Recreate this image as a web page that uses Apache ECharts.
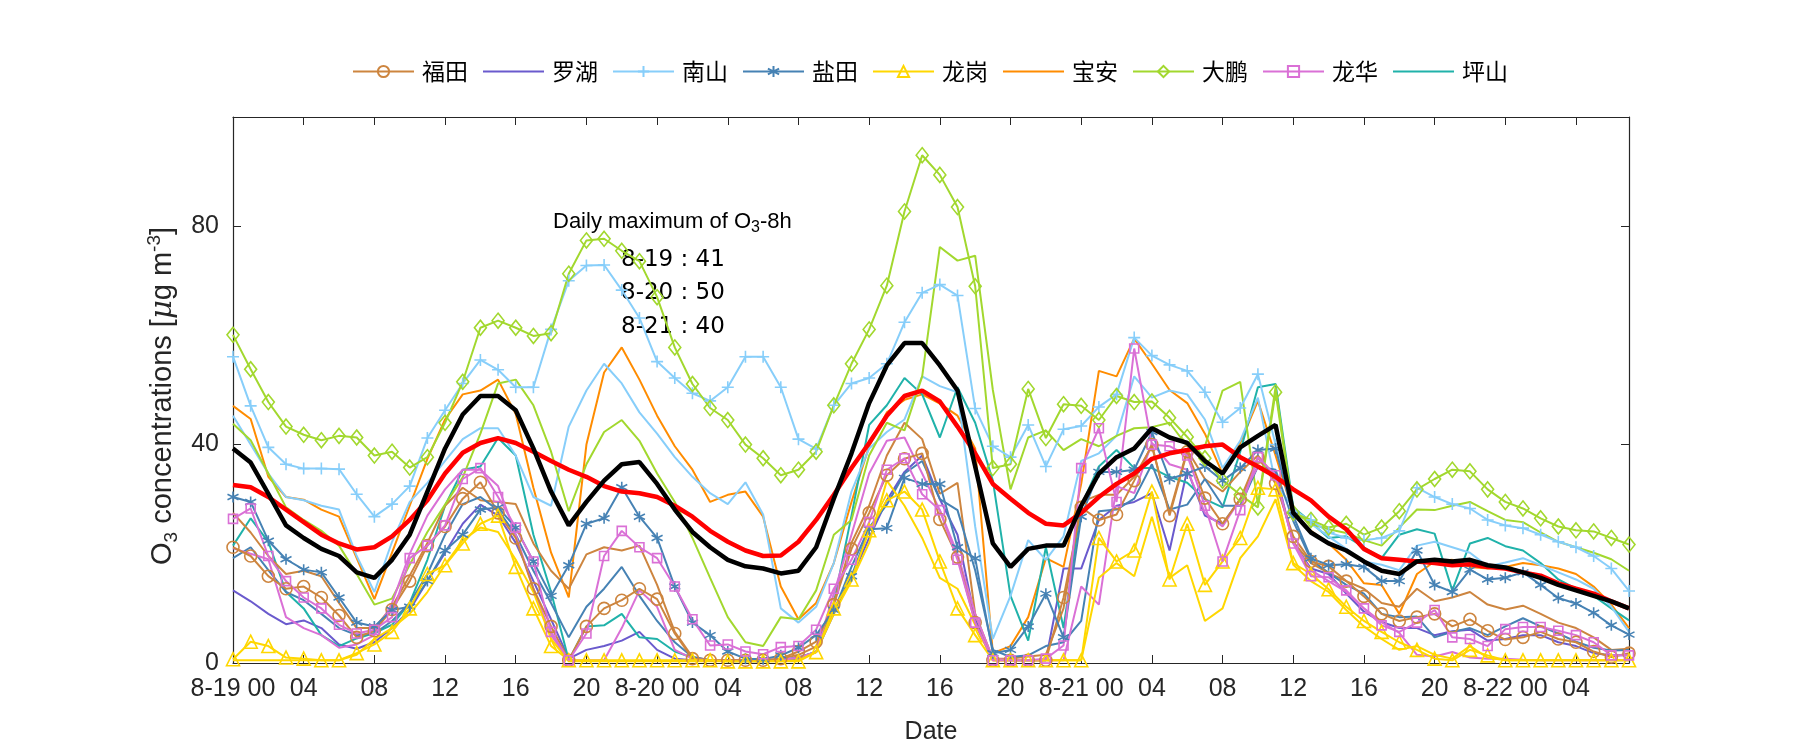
<!DOCTYPE html>
<html><head><meta charset="utf-8">
<script src="https://cdn.jsdelivr.net/npm/echarts@6/dist/echarts.min.js"></script>
<style>html,body{margin:0;padding:0;background:#fff}#c{width:1800px;height:750px}</style>
</head><body><div id="c"></div>
<script>
// hours since 8-19 00:00
const hours = Array.from({length: 80}, (_, i) => i);
const xTickLabels = ['8-19 00','04','08','12','16','20','8-20 00','04','08','12','16','20','8-21 00','04','08','12','16','20','8-22 00','04'];
const yTickLabels = ['0','40','80'];
const legendNames = ['福田','罗湖','南山','盐田','龙岗','宝安','大鹏','龙华','坪山'];
const dailyMaxDates = ['8-19','8-20','8-21'];
const dailyMaxValues = [41, 50, 40];

// stations with legend
const futian = [21.2,19.6,15.9,13.6,14.0,12.0,8.7,4.7,5.9,9.8, 15.0,21.5,25.0,30.1,33.1,27.5,22.9,13.6,6.7,0.5, 6.7,10.0,11.5,13.6,11.7,5.4,0.8,0.5,0.5,0.5, 0.5,0.8,2.1,3.9,10.7,20.9,27.5,34.4,37.4,38.4, 26.3,19.4,7.4,0.5,0.5,0.5,0.5,12.0,28.5,26.2, 27.2,33.4,40.0,27.0,38.7,30.2,25.5,30.0,37.7,32.9, 23.2,18.6,17.7,15.0,12.2,9.0,7.7,8.4,9.0,6.7, 8.0,5.9,4.3,4.7,5.7,4.4,3.8,2.1,1.1,1.8];
const luohu = [13.3,11.3,9.0,7.1,7.8,6.4,3.4,2.6,3.8,6.4, 9.7,15.0,20.2,25.5,29.0,27.0,22.0,15.0,8.0,0.8, 2.4,3.1,4.1,5.7,2.4,0.8,0.5,0.4,0.4,0.4, 0.4,0.4,0.8,2.0,9.0,15.6,22.9,29.8,35.0,38.0, 30.0,23.5,8.0,0.8,0.5,0.5,0.5,17.3,17.3,26.2, 28.8,29.5,31.1,20.6,35.4,27.0,25.5,30.0,36.0,35.0, 22.0,17.3,16.3,12.7,9.4,7.5,6.4,6.4,5.1,5.8, 6.1,4.1,4.4,5.1,5.1,3.8,3.1,1.8,1.4,1.4];
const nanshan = [56.1,47.1,39.5,36.4,35.6,35.6,35.5,30.9,26.8,29.1, 32.4,41.2,46.3,51.2,55.5,53.7,50.5,50.5,61.1,70.0, 72.8,72.9,68.3,63.2,55.2,52.2,49.4,48.0,50.5,56.1, 56.1,50.5,41.0,39.2,47.2,51.2,52.2,54.8,62.4,67.8, 69.3,67.3,46.6,39.7,37.7,43.6,36.0,42.8,43.4,46.9, 49.2,59.6,56.3,54.6,53.5,49.6,44.1,46.7,52.9,40.0, 27.8,26.2,23.9,22.9,22.5,22.9,24.2,32.1,30.4,29.1, 28.3,26.2,25.2,24.7,23.5,22.2,21.2,19.6,17.3,13.2];
const yantian = [30.4,29.5,22.4,19.0,17.1,16.6,12.0,7.4,6.7,9.7, 10.3,15.0,20.6,23.5,28.1,28.5,24.8,18.6,12.3,17.9, 25.5,26.5,32.2,26.8,22.9,14.0,7.4,5.1,2.1,0.8, 0.7,1.4,2.8,5.1,9.7,15.9,24.5,24.7,33.9,32.8, 32.8,21.2,19.2,1.8,2.4,6.7,12.7,4.7,26.8,35.0, 35.0,35.4,42.3,33.7,34.7,36.0,33.4,35.7,39.0,39.3, 27.0,19.2,17.9,18.1,17.6,15.0,15.0,20.6,14.3,13.0, 17.1,15.3,15.6,16.6,14.3,11.9,10.9,9.2,6.9,5.2];
const longgang = [0.7,3.9,3.1,1.0,0.8,0.5,0.5,1.8,3.4,5.7, 10.0,16.3,17.9,21.9,25.5,27.0,17.6,10.0,3.1,0.5, 0.5,0.5,0.5,0.5,0.5,0.5,0.5,0.5,0.3,0.3, 0.3,0.3,0.3,2.0,10.0,15.3,24.3,29.8,31.4,28.1, 18.6,10.0,5.1,0.5,0.5,0.5,0.5,0.5,0.5,22.9, 18.6,20.6,31.4,15.3,25.5,14.3,18.6,22.9,32.1,31.8, 18.3,16.3,13.5,10.3,7.7,5.7,3.8,2.4,0.8,0.5, 2.4,1.4,0.5,0.5,0.5,0.5,0.5,0.5,0.5,0.5];
const baoan = [47.1,44.7,34.1,30.4,29.9,28.1,26.8,19.2,11.7,20.2, 28.8,37.4,44.6,49.2,49.9,51.9,45.6,32.1,20.2,12.0, 40.0,53.2,57.8,51.9,45.3,39.7,35.4,29.5,30.8,31.4, 26.8,14.0,8.0,11.0,18.3,29.5,39.7,45.9,48.2,49.2, 47.5,45.3,39.3,1.8,3.1,8.4,19.2,17.6,32.8,53.5, 52.5,59.4,54.8,50.0,47.6,42.0,34.7,40.3,48.0,38.0, 27.5,24.2,21.9,18.9,14.6,14.3,9.0,16.3,18.6,18.9, 17.6,17.3,17.6,18.3,17.9,17.3,16.3,14.0,10.7,6.4];
const dapeng = [60.1,53.8,47.8,43.3,41.8,40.8,41.6,41.3,38.0,38.7, 35.8,37.7,44.0,51.5,61.4,62.7,61.4,59.9,60.4,71.3, 77.4,77.7,75.5,73.6,67.0,57.8,51.1,46.7,44.5,40.0, 37.5,34.4,35.4,38.7,47.2,54.8,61.1,69.1,82.7,93.0, 89.4,83.5,69.0,35.7,36.4,50.2,41.2,47.4,47.1,44.5, 48.9,47.8,47.9,44.9,41.4,37.5,33.4,30.8,28.5,49.6, 27.5,26.2,24.8,25.5,23.5,24.8,27.8,31.8,33.7,35.4, 35.1,31.8,29.5,28.3,26.5,25.0,24.3,24.1,22.9,21.7];
const longhua = [26.4,28.3,19.6,15.0,12.0,10.0,7.0,5.4,6.1,8.4, 19.2,21.5,25.2,33.7,35.7,30.4,24.8,18.6,5.7,0.5, 5.4,19.6,24.2,21.2,19.2,14.0,8.0,3.2,3.4,2.1, 1.6,2.9,3.1,6.1,13.6,18.9,25.8,35.4,37.5,30.9, 28.0,18.9,7.4,0.5,0.5,0.5,0.8,3.2,35.7,43.0, 29.5,57.6,40.0,39.7,38.0,28.8,18.6,28.0,37.7,34.4, 21.9,15.9,15.7,13.3,10.0,6.9,5.7,7.4,9.7,4.7, 4.4,3.1,6.2,6.6,6.6,5.9,5.1,3.8,1.4,1.4];
const pingshan = [21.5,26.5,22.2,13.0,10.0,5.1,3.1,4.5,5.5,7.0, 11.0,18.9,28.8,35.4,36.0,41.2,38.0,23.5,13.0,0.5, 6.7,6.9,9.0,4.7,4.4,2.1,1.0,0.5,0.5,0.5, 0.5,0.5,1.0,2.0,11.0,27.0,43.6,47.2,52.2,49.2, 41.3,50.5,44.0,33.4,12.3,4.1,21.2,6.4,28.8,36.0, 39.0,35.7,35.7,34.1,33.0,30.0,28.5,38.7,50.5,51.1, 28.5,25.8,22.9,23.2,21.2,19.2,23.5,24.5,23.7,13.3, 21.9,22.9,21.4,20.6,18.3,15.3,13.6,12.3,10.0,7.8];

// second set of lines (no legend entry)
const futian2 = [27.5,23.9,19.6,16.3,16.9,15.9,11.0,6.4,6.4,10.3, 16.0,22.0,28.8,32.1,29.8,29.5,29.1,21.9,16.9,13.6, 19.9,21.2,20.6,21.5,14.3,5.7,1.1,0.5,0.5,0.5, 0.5,0.8,1.5,3.0,11.0,22.0,28.8,38.0,44.0,41.0, 31.0,33.0,9.0,0.8,0.8,1.2,1.5,10.0,29.5,30.8, 30.8,34.1,39.7,27.5,39.0,33.7,31.4,35.0,38.0,34.1, 22.2,18.3,16.5,15.0,13.6,11.0,10.3,13.6,11.3,12.0, 13.0,10.7,9.8,10.5,9.0,7.4,6.4,4.7,2.4,2.6];
const nanshan2 = [45.3,40.0,34.7,30.4,29.8,28.8,28.1,19.6,13.0,22.2, 29.5,33.0,37.0,41.0,43.0,43.0,38.0,30.4,28.8,43.3, 49.9,54.8,51.2,45.9,42.0,37.7,34.1,31.1,29.1,33.1, 27.2,10.0,7.4,10.3,18.3,31.4,39.3,42.3,44.6,52.5, 50.7,49.6,25.0,4.4,12.3,22.5,18.9,23.2,37.0,38.4, 41.6,52.5,48.6,49.9,49.2,44.6,35.7,40.7,48.6,32.8, 28.5,25.5,23.2,20.9,18.6,18.0,17.0,21.5,22.2,21.2, 20.2,17.7,18.4,19.2,17.9,16.6,15.3,13.6,10.3,5.7];
const dapeng2 = [43.8,40.8,34.7,28.5,26.2,24.2,21.5,16.3,10.7,11.8, 18.0,24.0,29.0,34.0,42.0,51.2,51.9,47.2,38.7,27.8, 36.4,42.3,44.5,40.7,34.7,29.5,22.9,15.6,8.4,3.8, 3.1,8.4,8.0,13.3,23.5,26.2,38.0,44.0,42.6,52.5, 76.2,73.7,74.6,50.0,31.8,41.3,42.6,39.0,41.0,39.7, 41.6,43.0,43.2,44.0,39.7,39.7,49.9,51.5,29.0,50.5, 27.8,25.5,24.5,23.8,22.5,21.5,24.8,28.1,28.0,28.8, 29.5,27.8,26.2,25.8,23.9,22.2,21.2,20.2,19.0,16.9];
const yantian2 = [19.2,21.2,17.0,13.0,11.5,9.0,6.4,5.1,5.4,7.7, 11.0,16.3,23.5,29.1,30.4,28.0,23.5,16.9,11.0,4.7, 10.3,13.6,17.6,12.3,7.7,3.8,1.1,0.5,0.3,0.3, 0.3,0.5,1.0,2.0,9.4,17.6,24.8,29.0,34.7,37.0, 30.0,28.0,17.0,2.4,1.1,1.4,3.1,3.8,7.7,27.8, 28.1,30.1,36.4,28.1,29.0,33.7,28.8,28.8,36.0,35.4, 26.0,18.9,16.5,14.3,12.7,9.0,8.4,8.5,4.7,5.7, 6.4,5.1,6.7,8.2,6.7,5.4,3.9,2.8,2.3,2.4];
const longhua2 = [21.0,20.0,19.0,8.4,6.4,5.1,2.8,3.4,5.1,11.0, 20.0,27.0,31.8,35.4,35.4,32.4,23.5,13.6,5.1,0.5, 0.5,0.5,6.4,13.3,10.3,2.4,0.8,0.5,0.5,0.5, 0.5,0.5,1.0,2.0,12.7,23.5,34.7,40.7,41.3,34.7, 28.0,20.0,9.0,0.8,0.5,0.5,0.5,0.5,14.0,10.7, 32.4,31.1,40.3,36.4,35.4,27.5,25.0,30.0,36.0,34.0, 22.0,17.0,15.0,13.0,10.0,7.5,5.5,1.5,1.2,2.0, 1.0,0.8,0.8,0.6,0.5,0.5,0.5,0.5,0.5,0.5];
const longgang2 = [0.5,0.5,0.5,0.5,0.5,0.5,0.5,1.5,4.4,6.4, 9.0,13.0,18.0,22.5,24.8,24.0,18.9,13.0,4.4,0.3, 0.3,0.3,0.3,0.3,0.3,0.3,0.3,0.3,0.3,0.3, 0.3,0.3,0.5,2.0,9.0,15.0,22.0,33.4,28.8,22.9, 15.6,13.6,7.0,0.5,0.5,0.5,0.5,0.5,0.5,15.6, 18.3,15.9,26.8,15.6,17.9,7.7,10.0,19.2,23.2,30.0, 18.0,15.0,13.0,9.7,6.7,4.4,2.4,3.1,1.5,0.8, 3.1,1.0,0.5,0.5,0.5,0.5,0.5,0.5,0.5,0.5];
// thick lines
const redLine = [32.6,32.2,30.4,28.1,25.8,23.5,21.9,20.8,21.2,23.2, 26.2,29.8,34.7,38.5,40.3,41.2,40.3,38.7,37.0,35.4, 34.1,32.4,31.4,31.1,30.4,28.8,26.8,24.2,22.2,20.6, 19.6,19.7,22.2,26.2,30.8,35.7,40.3,45.3,48.9,49.9, 47.9,43.3,38.4,32.8,30.1,27.5,25.5,25.2,27.5,30.4, 32.8,34.7,37.4,38.4,39.0,39.7,40.0,37.7,36.0,34.1, 31.8,29.8,26.8,24.5,20.9,19.2,18.9,18.6,18.3,17.9, 18.1,17.6,17.3,16.6,16.0,14.6,13.6,12.7,11.3,10.0];
const blackLine = [39.3,36.7,31.0,25.2,22.9,20.9,19.6,16.6,15.6,18.9, 23.5,31.4,39.3,45.5,48.9,48.9,46.3,39.3,31.4,25.2, 29.5,33.4,36.4,36.8,32.8,28.1,24.0,21.2,18.9,17.7, 17.3,16.4,16.9,21.2,30.1,38.4,47.6,54.5,58.6,58.6, 54.5,49.9,36.0,21.9,17.6,20.9,21.5,21.5,28.8,34.7, 37.7,39.3,43.0,41.3,40.3,37.0,34.7,39.5,41.6,43.6, 27.5,23.9,21.9,20.6,18.6,16.9,16.3,18.6,18.9,18.6, 18.9,17.9,17.5,16.6,15.6,14.3,13.3,12.3,11.3,10.0];

const C = {futian:'#CD853F', luohu:'#6A5ACD', nanshan:'#87CEFA', yantian:'#4682B4', longgang:'#FFD700', baoan:'#FF8C00', dapeng:'#A2D82E', longhua:'#DA70D6', pingshan:'#20B2AA'};
const PLUS = 'path://M5,0L5,10M0,5L10,5';
const STAR = 'path://M5,0L5,10M0.7,2.5L9.3,7.5M0.7,7.5L9.3,2.5';
const CLEAR = 'rgba(255,255,255,0)';

function pts(arr){ return arr.map((v,i)=>[hours[i], v]); }
function line(name, arr, color, width, z){
  return {name, type:'line', data: pts(arr), symbol:'none', z: z||2,
    lineStyle:{color, width}, itemStyle:{color:CLEAR, borderWidth:0}, emphasis:{disabled:true}, silent:true};
}
function marked(name, arr, color, symbol, size){
  return {name, type:'line', data: pts(arr), symbol, symbolSize: size, showSymbol:true, z:3,
    lineStyle:{color, width:2}, itemStyle:{color:CLEAR, borderColor:color, borderWidth:1.6},
    emphasis:{disabled:true}, silent:true};
}

const series = [
  marked('福田', futian, C.futian, 'circle', 12),
  line('罗湖', luohu, C.luohu, 2),
  marked('南山', nanshan, C.nanshan, PLUS, 12),
  marked('盐田', yantian, C.yantian, STAR, 11),
  marked('龙岗', longgang, C.longgang, 'triangle', 13),
  line('宝安', baoan, C.baoan, 2),
  marked('大鹏', dapeng, C.dapeng, 'diamond', [12,15]),
  marked('龙华', longhua, C.longhua, 'rect', 9),
  line('坪山', pingshan, C.pingshan, 2),
  line('福田b', futian2, C.futian, 2),
  line('南山b', nanshan2, C.nanshan, 2),
  line('大鹏b', dapeng2, C.dapeng, 2),
  line('盐田b', yantian2, C.yantian, 2),
  line('龙华b', longhua2, C.longhua, 2),
  line('龙岗b', longgang2, C.longgang, 2),
  line('mean2', redLine, '#FF0000', 4.5, 5),
  line('mean1', blackLine, '#000000', 4.5, 6)
];

const axisCol = '#262626';
const font = 'Liberation Sans';
const chart = echarts.init(document.getElementById('c'), null, {renderer:'canvas'});
chart.setOption({
  animation:false,
  backgroundColor:'#fff',
  grid:{left:233, right:171, top:117, bottom:86, containLabel:false},
  legend:{data:legendNames, left:352, top:60, itemWidth:61, itemHeight:14, itemGap:14, padding:0,
    textStyle:{fontSize:23, fontFamily:'Noto Sans CJK SC', color:'#000', padding:[0,0,0,3]}, selectedMode:false},
  xAxis:[
    {type:'value', min:0, max:79, interval:4, position:'bottom',
     axisLine:{lineStyle:{color:axisCol, width:1.2}}, axisTick:{inside:true, length:8, lineStyle:{color:axisCol}},
     splitLine:{show:false}, axisLabel:{showMaxLabel:false, margin:14, fontSize:25, fontFamily:font, color:axisCol,
       formatter:(v)=>{const k=v/4; return Number.isInteger(k)&&k<xTickLabels.length? xTickLabels[k]:'';}},
     name:'Date', nameLocation:'middle', nameGap:57, nameTextStyle:{fontSize:25, fontFamily:font, color:axisCol}},
    {type:'value', min:0, max:79, interval:4, position:'top',
     axisLine:{onZero:false, lineStyle:{color:axisCol, width:1.2}}, axisTick:{inside:true, length:8, lineStyle:{color:axisCol}},
     axisLabel:{show:false}, splitLine:{show:false}}
  ],
  yAxis:[
    {type:'value', min:0, max:100, interval:40, position:'left',
     axisLine:{show:true, lineStyle:{color:axisCol, width:1.2}}, axisTick:{show:true, inside:true, length:8, lineStyle:{color:axisCol}},
     splitLine:{show:false}, axisLabel:{showMaxLabel:false, margin:14, fontSize:25, fontFamily:font, color:axisCol,
       formatter:(v)=>{const k=v/40; return Number.isInteger(k)&&k<yTickLabels.length? yTickLabels[k]:'';}}},
    {type:'value', min:0, max:100, interval:40, position:'right',
     axisLine:{show:true, onZero:false, lineStyle:{color:axisCol, width:1.2}}, axisTick:{show:true, inside:true, length:8, lineStyle:{color:axisCol}},
     axisLabel:{show:false}, splitLine:{show:false}}
  ],
  graphic:[
    {type:'text', x:163, y:396, rotation:Math.PI/2, silent:true,
     style:{text:'O{sub|3} concentrations [{mu|μ}g m{sup|-3}]', fontSize:29, fontFamily:font, fill:axisCol,
       align:'center', verticalAlign:'middle', lineHeight:36,
       rich:{sub:{fontSize:19, lineHeight:16, verticalAlign:'bottom', fontFamily:font, fill:axisCol},
             sup:{fontSize:19, lineHeight:16, verticalAlign:'top', fontFamily:font, fill:axisCol},
             mu:{fontSize:29, fontStyle:'italic', fontFamily:'DejaVu Serif', fill:axisCol, lineHeight:36}}}},
    {type:'text', x:553, y:222, silent:true,
     style:{text:'Daily maximum of O{sub|3}-8h', fontSize:22, fontFamily:font, fill:'#000',
       align:'left', verticalAlign:'middle', lineHeight:28,
       rich:{sub:{fontSize:16, lineHeight:12, verticalAlign:'bottom', fontFamily:font, fill:'#000'}}}},
    ...dailyMaxDates.map((d,i)=>({type:'text', x:621, y:260+i*33.5, silent:true,
     style:{text: d + ' : ' + dailyMaxValues[i], fontSize:23, fontFamily:'DejaVu Sans', fill:'#000', align:'left', verticalAlign:'middle'}}))
  ],
  series
});
</script></body></html>
